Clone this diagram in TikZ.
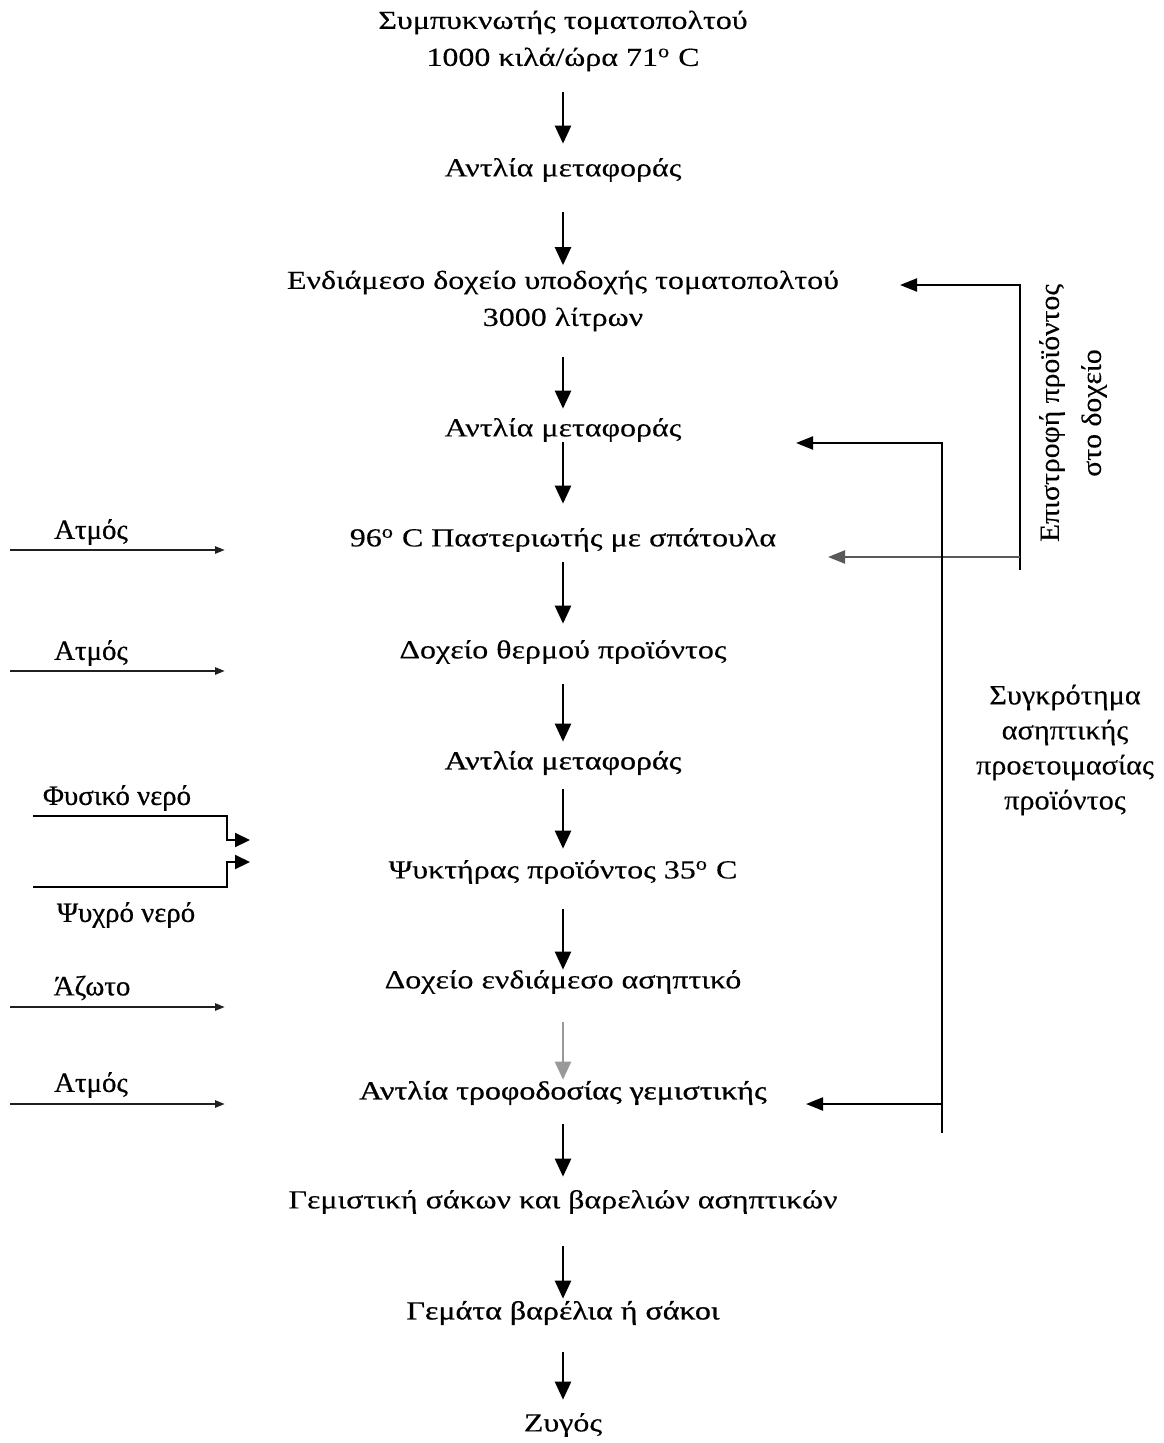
\documentclass[tikz,border=0pt]{standalone}
\usepackage{fontspec}
\setmainfont{Liberation Serif}
\newfontfamily\mainf[FakeStretch=1.23,FakeBold=0.25]{Liberation Serif}
\newfontfamily\mainbf[FakeStretch=1.23,FakeBold=0.9]{Liberation Serif}
\newfontfamily\leftf[FakeStretch=1.03,FakeBold=0.6]{Liberation Serif}
\newfontfamily\sidef[FakeStretch=1.08,FakeBold=0.25]{Liberation Serif}
\newfontfamily\rotf[FakeStretch=1.06,FakeBold=0.2]{Liberation Serif}
\usetikzlibrary{arrows.meta}
\begin{document}
\begin{tikzpicture}[x=0.5pt,y=-0.5pt,
  lbl/.style={font=\mainf\fontsize{13}{18.5}\selectfont, align=center, inner sep=0pt},
  lblb/.style={font=\mainbf\fontsize{13}{18.5}\selectfont, align=center, inner sep=0pt},
  inlbl/.style={font=\leftf\fontsize{14}{18}\selectfont, inner sep=0pt},
  side/.style={font=\sidef\fontsize{14}{17.5}\selectfont, align=center, inner sep=0pt},
  rotlbl/.style={font=\rotf\fontsize{14}{21}\selectfont, align=center, inner sep=0pt, rotate=90},
  flow/.style={line width=1.2pt, -{Triangle[length=9pt,width=8pt]}},
  inflow/.style={line width=1.2pt, -{Triangle[length=5pt,width=3.5pt]}, gray!25!black},
  water/.style={line width=1.1pt, -{Triangle[length=7.5pt,width=7pt]}},
  rflow/.style={line width=1.1pt, -{Triangle[length=8.5pt,width=6.5pt]}}
]
\useasboundingbox (0,0) rectangle (1163,1443);
% main column
\node[lbl] (n1) at (563,41) {Συμπυκνωτής τοματοπολτού\\1000 κιλά/ώρα 71\textsuperscript{o} C};
\node[lbl] (n2) at (563,170) {Αντλία μεταφοράς};
\node[lbl] (n3) at (563,301) {Ενδιάμεσο δοχείο υποδοχής τοματοπολτού\\3000 λίτρων};
\node[lbl] (n4) at (563,430) {Αντλία μεταφοράς};
\node[lbl] (n5) at (563,540) {96\textsuperscript{o} C Παστεριωτής με σπάτουλα};
\node[lbl] (n6) at (563,652) {Δοχείο θερμού προϊόντος};
\node[lblb] (n7) at (563,763) {Αντλία μεταφοράς};
\node[lbl] (n8) at (563,872) {Ψυκτήρας προϊόντος 35\textsuperscript{o} C};
\node[lbl] (n9) at (563,982) {Δοχείο ενδιάμεσο ασηπτικό};
\node[lblb] (n10) at (563,1093) {Αντλία τροφοδοσίας γεμιστικής};
\node[lbl] (n11) at (563,1202) {Γεμιστική σάκων και βαρελιών ασηπτικών};
\node[lblb] (n12) at (563,1313) {Γεμάτα βαρέλια ή σάκοι};
\node[lbl] (n13) at (563,1425) {Ζυγός};
\foreach \a/\b/\s/\e/\c in {n1/n2/10/7/black, n2/n3/15/2.5/black, n3/n4/12.5/4.5/black,
    n4/n5/0/12/black, n5/n6/5/8/black, n6/n7/10/4.5/black, n7/n8/7/5.5/black,
    n8/n9/12.5/0/black, n9/n10/14/0.5/gray!80, n10/n11/9.5/6.5/black,
    n11/n12/16/1/black, n12/n13/13.5/6.5/black}
  \draw[flow, draw=\c, fill=\c, shorten <=\s pt, shorten >=\e pt] (\a.south) -- (\b.north);
% left inputs
\coordinate (s1a) at (10,550);  \coordinate (s1b) at (225,550);
\coordinate (s2a) at (10,671);  \coordinate (s2b) at (225,671);
\coordinate (s3a) at (10,1007); \coordinate (s3b) at (225,1007);
\coordinate (s4a) at (10,1104); \coordinate (s4b) at (225,1104);
\draw[inflow] (s1a) -- (s1b);
\draw[inflow] (s2a) -- (s2b);
\draw[inflow] (s3a) -- (s3b);
\draw[inflow] (s4a) -- (s4b);
\node[inlbl] (l1) at (91,532) {Ατμός};
\node[inlbl] (l2) at (91,653) {Ατμός};
\node[inlbl] (l3) at (92,988) {Άζωτο};
\node[inlbl] (l4) at (91,1085) {Ατμός};
% water
\coordinate (w1a) at (33,816); \coordinate (w1b) at (227,816); \coordinate (w1c) at (250,840);
\coordinate (w2a) at (33,887); \coordinate (w2b) at (227,887); \coordinate (w2c) at (250,862);
\draw[water] (w1a) -- (w1b) |- (w1c);
\draw[water] (w2a) -- (w2b) |- (w2c);
\node[inlbl] (l5) at (117,798) {Φυσικό νερό};
\node[inlbl] (l6) at (126,915) {Ψυχρό νερό};
% right return loop
\coordinate (r1a) at (1020,570); \coordinate (r1b) at (1020,285); \coordinate (r1t) at (900,285);
\coordinate (r1c) at (1020,557); \coordinate (r1u) at (828,557);
\draw[rflow] (r1a) -- (r1b) -- (r1t);
\draw[rflow, gray!70!black] (r1c) -- (r1u);
\node[rotlbl] (rl) at (1073,413) {Επιστροφή προϊόντος\\στο δοχείο};
% aseptic unit loop
\coordinate (r2a) at (942,1133); \coordinate (r2b) at (942,443); \coordinate (r2t) at (796,443);
\coordinate (r2c) at (942,1104); \coordinate (r2u) at (806,1104);
\draw[rflow] (r2a) -- (r2b) -- (r2t);
\draw[rflow] (r2c) -- (r2u);
\node[side] (sl) at (1065,750) {Συγκρότημα\\ασηπτικής\\προετοιμασίας\\προϊόντος};
\end{tikzpicture}
\end{document}
